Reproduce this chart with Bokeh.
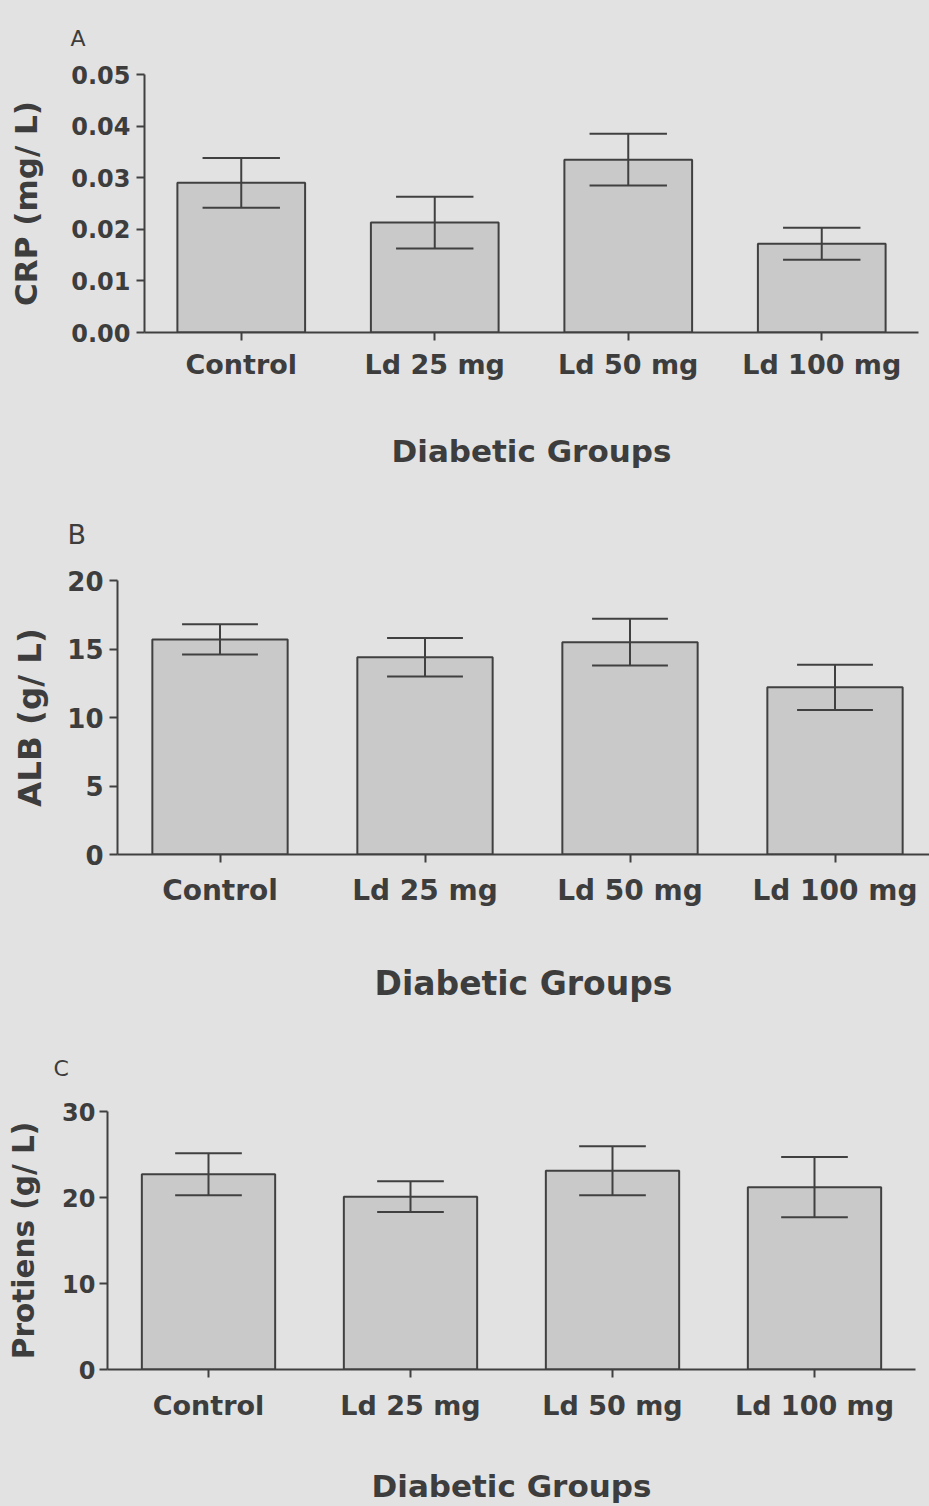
from bokeh.plotting import figure
from bokeh.models import FixedTicker, PrintfTickFormatter, ColumnDataSource, Range1d
from bokeh.embed import file_html
from bokeh.resources import INLINE

# ---------------- data ----------------
groups = ["Control", "Ld 25 mg", "Ld 50 mg", "Ld 100 mg"]
x_title = "Diabetic Groups"

crp_mean = [0.0290, 0.0213, 0.0335, 0.0172]
crp_sem = [0.0048, 0.0050, 0.0050, 0.0031]
crp_ticks = [0.00, 0.01, 0.02, 0.03, 0.04, 0.05]

alb_mean = [15.7, 14.4, 15.5, 12.2]
alb_sem = [1.1, 1.4, 1.7, 1.65]
alb_ticks = [0, 5, 10, 15, 20]

prot_mean = [22.7, 20.1, 23.1, 21.2]
prot_sem = [2.45, 1.8, 2.85, 3.5]
prot_ticks = [0, 10, 20, 30]

# ---------------- style ----------------
BG = "#e2e2e2"
BAR = "#c9c9c9"
EDGE = "#404040"
TXT = "#3d3d3d"
FONT = "DejaVu Sans"


def panel(letter, ylabel, means, sems, yticks, yfmt, h, borders, xend, cap,
          fs, stand, letter_pos):
    left, right, top, bottom = borders
    xtick_fs, ytick_fs, xtitle_fs, ytitle_fs, letter_fs = fs
    xs_stand, xl_stand, ys_stand, yl_stand = stand
    p = figure(width=929, height=h, x_range=Range1d(0, xend),
               y_range=Range1d(yticks[0], yticks[-1]),
               output_backend="svg", toolbar_location=None,
               min_border_left=left, min_border_right=right,
               min_border_top=top, min_border_bottom=bottom,
               background_fill_color=BG, border_fill_color=BG)
    xs = [i + 0.5 for i in range(len(groups))]
    src = ColumnDataSource(dict(
        x=xs, top=means,
        lo=[m - s for m, s in zip(means, sems)],
        hi=[m + s for m, s in zip(means, sems)],
        cl=[x - cap for x in xs], cr=[x + cap for x in xs]))
    p.vbar(x="x", top="top", bottom=0, width=0.66, source=src,
           fill_color=BAR, line_color=EDGE, line_width=2)
    for a, b, c, d in [("x", "lo", "x", "hi"), ("cl", "hi", "cr", "hi"),
                       ("cl", "lo", "cr", "lo")]:
        p.segment(x0=a, y0=b, x1=c, y1=d, source=src,
                  line_color=EDGE, line_width=2)

    p.xaxis.ticker = FixedTicker(ticks=xs)
    p.xaxis.major_label_overrides = {x: g for x, g in zip(xs, groups)}
    p.yaxis.ticker = FixedTicker(ticks=yticks)
    p.yaxis.formatter = PrintfTickFormatter(format=yfmt)
    p.xaxis.axis_label = x_title
    p.yaxis.axis_label = ylabel

    for ax in (p.xaxis, p.yaxis):
        ax.axis_line_width = 2
        ax.axis_line_color = EDGE
        ax.major_tick_line_width = 2
        ax.major_tick_line_color = EDGE
        ax.major_tick_out = 8
        ax.major_tick_in = 0
        ax.minor_tick_line_color = None
        ax.major_label_text_color = TXT
        ax.major_label_text_font = FONT
        ax.major_label_text_font_style = "bold"
        ax.axis_label_text_color = TXT
        ax.axis_label_text_font = FONT
        ax.axis_label_text_font_style = "bold"
    p.xaxis.major_label_text_font_size = f"{xtick_fs}px"
    p.yaxis.major_label_text_font_size = f"{ytick_fs}px"
    p.xaxis.axis_label_text_font_size = f"{xtitle_fs}px"
    p.yaxis.axis_label_text_font_size = f"{ytitle_fs}px"
    p.xaxis.major_label_standoff = xs_stand
    p.xaxis.axis_label_standoff = xl_stand
    p.yaxis.major_label_standoff = ys_stand
    p.yaxis.axis_label_standoff = yl_stand

    p.xgrid.grid_line_color = None
    p.ygrid.grid_line_color = None
    p.outline_line_color = None

    off, stdf = letter_pos
    p.title.text = letter
    p.title.align = "left"
    p.title.offset = off
    p.title.standoff = stdf
    p.title.text_font = FONT
    p.title.text_font_style = "normal"
    p.title.text_font_size = f"{letter_fs}px"
    p.title.text_color = TXT
    return p


pa = panel("A", "CRP (mg/ L)", crp_mean, crp_sem, crp_ticks, "%.2f",
           486, (144, 11, 74, 154), 4.0, 0.20,
           (27, 24, 31, 31, 22), (8, 50, 6, 24), (-74, 47))
pb = panel("B", "ALB (g/ L)", alb_mean, alb_sem, alb_ticks, "%d",
           535, (117, 0, 93, 167), 812 / 205, 0.185,
           (28, 26, 33, 32.5, 27), (11, 54, 6, 15), (-50, 61))
pc = panel("C", "Protiens (g/ L)", prot_mean, prot_sem, prot_ticks, "%d",
           485, (107, 14, 90, 137), 4.0, 0.165,
           (27, 24, 31, 29.5, 22), (12, 44, 4, 18), (-54, 62))

html = file_html([pa, pb, pc], INLINE)
html = html.replace("</head>",
                    "<style>html,body{background-color:%s;}</style></head>" % BG)
open("out.html", "w").write(html)
